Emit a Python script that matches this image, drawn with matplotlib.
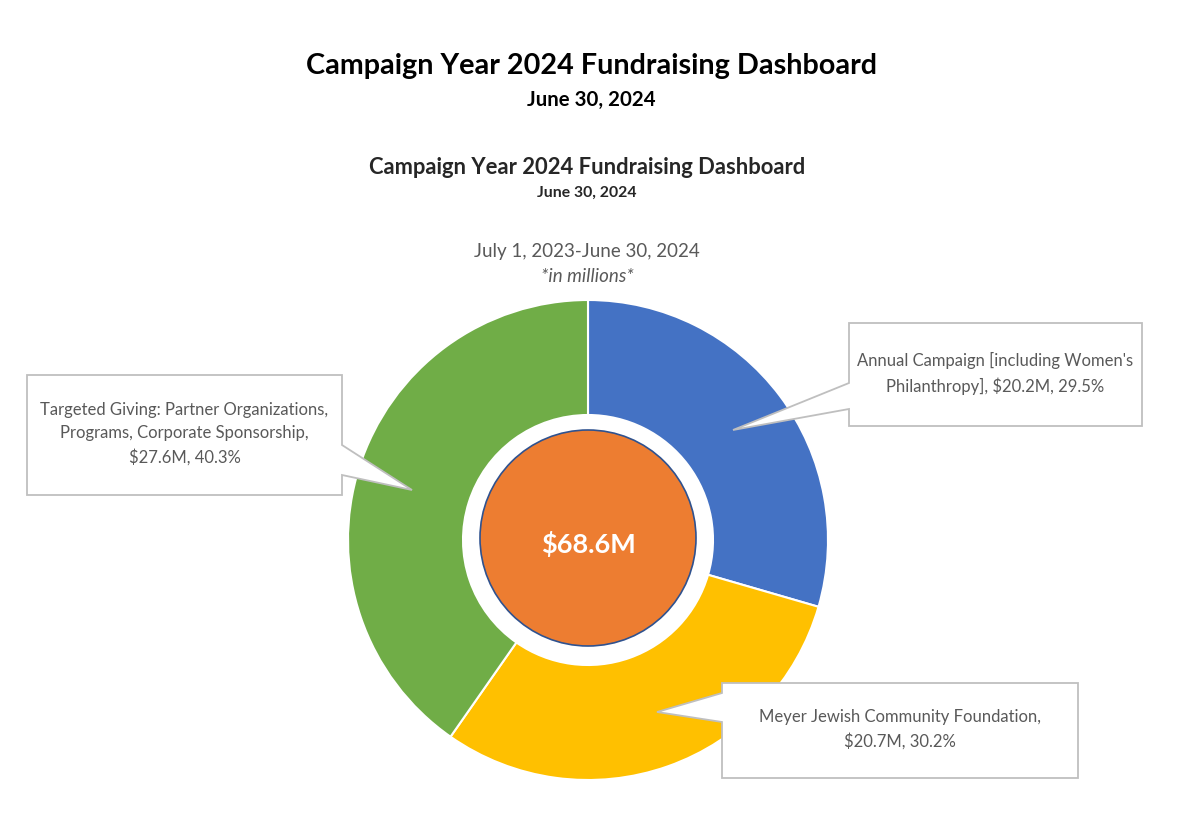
import matplotlib.pyplot as plt
from matplotlib.patches import Circle, Polygon

# data
labels = ["Annual Campaign [including Women's\nPhilanthropy]",
          "Meyer Jewish Community Foundation",
          "Targeted Giving: Partner Organizations,\nPrograms, Corporate Sponsorship"]
seps = [", ", ",\n", ",\n"]
values = [20.2, 20.7, 27.6]
pcts = [29.5, 30.2, 40.3]
total = 68.6
colors = ["#4472C4", "#FFC000", "#70AD47"]

W, H = 1178, 838
fig = plt.figure(figsize=(W / 100, H / 100), dpi=100)
ax = fig.add_axes([0, 0, 1, 1])

def Y(y):
    # pixel row -> data y
    return H - y

cx, cy = 588, 540
ax.pie(values, colors=colors, startangle=90, counterclock=False,
       center=(cx, Y(cy)), radius=240,
       wedgeprops=dict(width=240 - 125, edgecolor="white", linewidth=1.5))
ax.add_patch(Circle((cx, Y(cy - 2)), 108, facecolor="#ED7D31",
                    edgecolor="#2F528F", linewidth=1.2, zorder=3))
ax.text(cx, Y(cy + 4), f"${total}M", color="white", fontsize=19.5,
        fontweight="bold", ha="center", va="center", family="Lato",
        parse_math=False, zorder=4)

# callout boxes: (x0, y0, x1, y1), side of pointer, base y's, tip
boxes = [
    ((849, 323, 1142, 426), "left", (383, 409), (733, 430)),
    ((722, 683, 1078, 778), "left", (693, 722), (657, 712)),
    ((27, 375, 342, 495), "right", (445, 475), (412, 490)),
]
for i, ((x0, y0, x1, y1), side, (b0, b1), (tx, ty)) in enumerate(boxes):
    if side == "left":
        pts = [(x0, y0), (x1, y0), (x1, y1), (x0, y1), (x0, b1), (tx, ty), (x0, b0)]
    else:
        pts = [(x0, y0), (x1, y0), (x1, b0), (tx, ty), (x1, b1), (x1, y1), (x0, y1)]
    pts = [(px, Y(py)) for px, py in pts]
    ax.add_patch(Polygon(pts, closed=True, facecolor="white",
                         edgecolor="#BFBFBF", linewidth=1.3, zorder=5))
    txt = f"{labels[i]}{seps[i]}${values[i]}M, {pcts[i]}%"
    ax.text((x0 + x1) / 2, Y((y0 + y1) / 2 - 1), txt, ha="center", va="center",
            fontsize=12, color="#595959", family="Lato", linespacing=1.55,
            parse_math=False, zorder=6)

# titles
ax.text(W / 2 + 2, Y(66), "Campaign Year 2024 Fundraising Dashboard",
        ha="center", va="center", fontsize=20.7, fontweight="bold",
        color="black", family="Lato")
ax.text(W / 2 + 2, Y(100), "June 30, 2024", ha="center", va="center",
        fontsize=14.7, fontweight="bold", color="black", family="Lato")
ax.text(587, Y(168), "Campaign Year 2024 Fundraising Dashboard",
        ha="center", va="center", fontsize=15.8, fontweight="bold",
        color="#262626", family="Lato")
ax.text(587, Y(193), "June 30, 2024", ha="center", va="center",
        fontsize=11.3, fontweight="bold", color="#262626", family="Lato")
ax.text(587, Y(252), "July 1, 2023-June 30, 2024", ha="center", va="center",
        fontsize=13.5, color="#595959", family="Lato")
ax.text(587, Y(276), "*in millions*", ha="center", va="center",
        fontsize=13.5, style="italic", color="#595959", family="Lato")

ax.set_xlim(0, W)
ax.set_ylim(0, H)
ax.set_aspect("equal")
ax.axis("off")

fig.savefig("out.png", dpi=100)
